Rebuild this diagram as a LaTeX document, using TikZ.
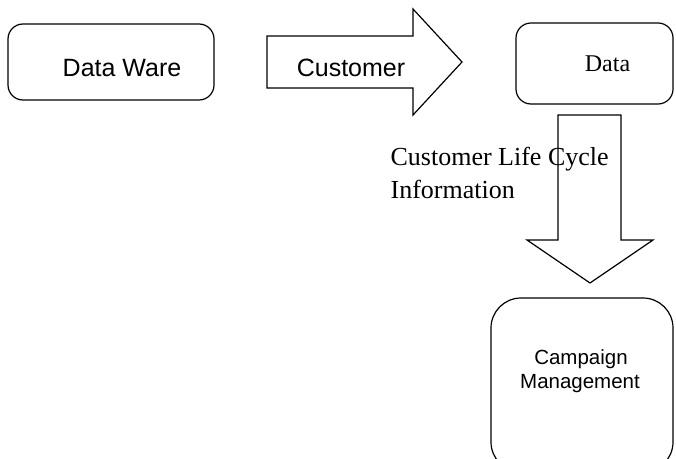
\documentclass[tikz,border=0pt]{standalone}
\usepackage{fontspec}
\setmainfont{Liberation Serif}
\setsansfont{Liberation Sans}
\begin{document}
\begin{tikzpicture}[x=1pt,y=-1pt,line width=1.2pt,
  box/.style={draw,rounded corners=#1},
  blockarrow/.style={draw,fill=white,line join=miter},
  sanslabel/.style={font=\sffamily\fontsize{25}{30}\selectfont,inner sep=0pt,anchor=base},
  seriflabel/.style={font=\rmfamily\fontsize{26}{33}\selectfont,inner sep=0pt,anchor=base west}]
\useasboundingbox (0,0) rectangle (676,458);

% source box
\draw[box=15pt] (8,24) rectangle (214,100);
\node[sanslabel] (ware) at (122,76) {Data Ware};

% right block arrow
\draw[blockarrow] (267,36) -- (413,36) -- (413,9) -- (462,62) -- (413,115)
  -- (413,88) -- (267,88) -- cycle;
\node[sanslabel] (cust) at (351,76) {Customer};

% target box
\draw[box=15pt] (516,23) rectangle (673,104);
\node[font=\rmfamily\fontsize{24}{29}\selectfont,inner sep=0pt,anchor=base] (data) at (607.5,71) {Data};

% down block arrow
\draw[blockarrow] (558,115) -- (621,115) -- (621,240) -- (653,240) -- (590,283)
  -- (527,240) -- (558,240) -- cycle;
\node[seriflabel] (life1) at (390,165) {Customer Life Cycle};
\node[seriflabel] (life2) at (390,198) {Information};

% campaign box
\draw[box=30pt] (491,298) rectangle (673,472);
\node[font=\sffamily\fontsize{20.5}{24}\selectfont,inner sep=0pt,anchor=base] (camp1) at (581,364) {Campaign};
\node[font=\sffamily\fontsize{20.5}{24}\selectfont,inner sep=0pt,anchor=base] (camp2) at (580,388) {Management};
\end{tikzpicture}
\end{document}
